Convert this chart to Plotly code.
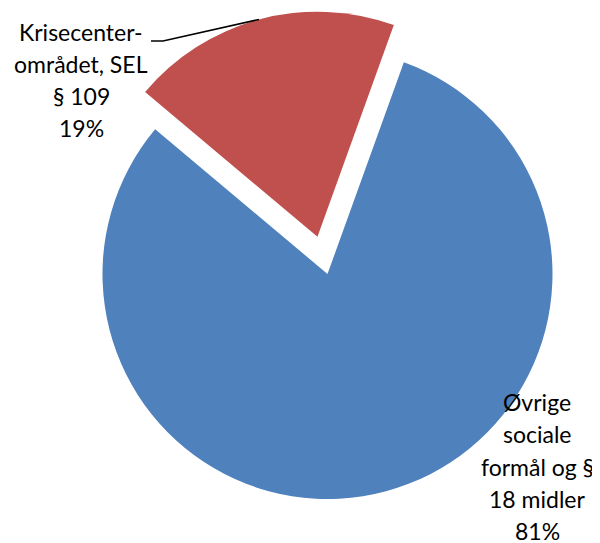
import math
import plotly.graph_objects as go

# data
categories = ["Krisecenter-området, SEL § 109", "Øvrige sociale formål og § 18 midler"]
label_lines = [
    ["Krisecenter-", "området, SEL", "§ 109"],
    ["Øvrige", "sociale", "formål og §", "18 midler"],
]
values = [19.4, 80.6]
percent_labels = ["19%", "81%"]
colors = ["#C0504D", "#4F81BD"]
pulls = [0.1715, 0.0]

W, H = 600, 543
OFF = 8  # page body margin in the browser
ROT = -50
dom_x = [0.0932, 0.9718]
dom_y = [0.0247, 0.9956]
FS = 23

fig = go.Figure(go.Pie(
    labels=categories,
    values=values,
    sort=False,
    direction="clockwise",
    rotation=ROT,
    pull=pulls,
    marker=dict(colors=colors, line=dict(width=0)),
    textinfo="none",
    hoverinfo="label+percent",
    domain=dict(x=dom_x, y=dom_y),
    showlegend=False,
))

FONT = dict(family="Lato, 'Open Sans', sans-serif", size=FS, color="#000000")

def px2paper(x, y):
    # x, y in screenshot pixels
    return (x - OFF) / W, 1 - (y - OFF) / H

# label positions (screenshot px: line centre x, baseline y of first line)
label_pos = [(81, 41), (537, 411.5)]
line_gap = 32.2
annotations = []
for i in range(2):
    lines = label_lines[i] + [percent_labels[i]]
    x0, b0 = label_pos[i]
    for j, t in enumerate(lines):
        b = b0 + j * line_gap
        xp, yp = px2paper(x0, b + 0.29 * FS)
        annotations.append(dict(text=t, x=xp, y=yp, xref="paper", yref="paper",
                                xanchor="center", yanchor="bottom", showarrow=False,
                                font=FONT))

# leader line end: on the arc of the pulled red slice at its mid-angle
bw = W * (dom_x[1] - dom_x[0])
bh = H * (dom_y[1] - dom_y[0])
r = min(bw, bh) / (2 + 2 * max(pulls))
cx = W * (dom_x[0] + dom_x[1]) / 2
cy = H * (1 - dom_y[0]) - bh / 2
tot = sum(values)
theta = math.radians(ROT + 360 * values[0] / tot / 2)
ex = cx + (1 + pulls[0]) * r * math.sin(theta)
ey = cy - (1 + pulls[0]) * r * math.cos(theta)

pts = [px2paper(151, 41), px2paper(163, 41), (ex / W, 1 - ey / H)]
path = "M " + " L ".join(f"{x},{y}" for x, y in pts)
shapes = [dict(type="path", path=path, xref="paper", yref="paper",
               line=dict(color="#000000", width=1.5))]

fig.update_layout(
    width=W, height=H,
    margin=dict(l=0, r=0, t=0, b=0),
    paper_bgcolor="white", plot_bgcolor="white",
    annotations=annotations,
    shapes=shapes,
)

fig.write_html("out.html")
